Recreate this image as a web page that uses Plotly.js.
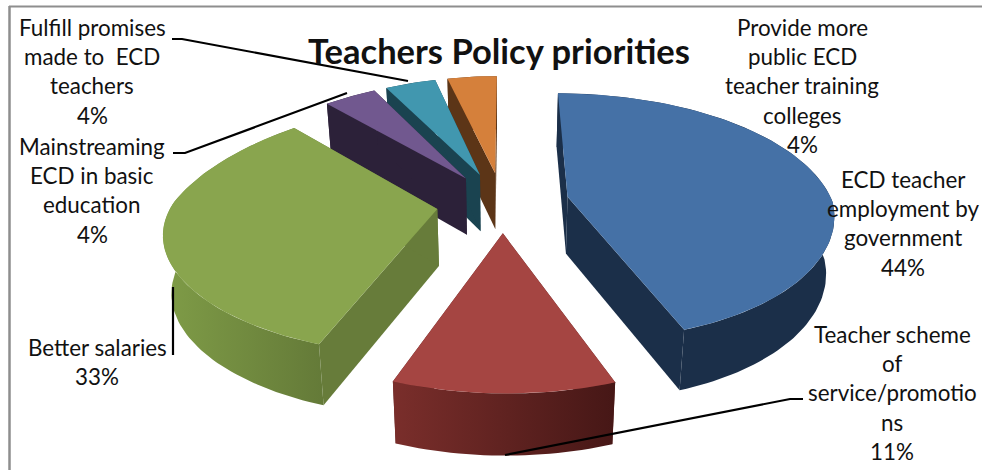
<!DOCTYPE html>
<html>
<head>
<meta charset="utf-8">
<script src="https://cdn.plot.ly/plotly-3.0.1.min.js"></script>
<style>html,body{margin:0;padding:0;background:#fff}#chart{width:982px;height:470px}</style>
</head>
<body>
<div id="chart"></div>
<script>
// Survey shares, clockwise from twelve o'clock
const categories = [
  "ECD teacher employment by government",
  "Teacher scheme of service/promotions",
  "Better salaries",
  "Mainstreaming ECD in basic education",
  "Fulfill promises made to ECD teachers",
  "Provide more public ECD teacher training colleges"
];
const shares = [44, 11, 33, 4, 4, 4];

// Slice colours: top face, cut faces, rim gradient ends
const topColors  = ["#4571A6", "#A54542", "#89A54E", "#71588F", "#4197AF", "#D5803B"];
const cutColors  = ["#1B2F49", "#5E2422", "#677C3A", "#2C2139", "#1A4350", "#5C3517"];
const rimLeft    = ["#1B2F49", "#7A2E2B", "#7F9C47", "#2C2139", "#1A4350", "#5C3517"];
const rimRight   = ["#1B2F49", "#461716", "#647A38", "#2C2139", "#1A4350", "#5C3517"];

// Back-to-front painting order of the slices
const paintOrder = [5, 4, 3, 0, 2, 1];

// Labels, one string per printed line
const labelLines = [
  ["ECD teacher", "employment by", "government", "44%"],
  ["Teacher scheme", "of", "service/promotio", "ns", "11%"],
  ["Better salaries", "33%"],
  ["Mainstreaming", "ECD in basic", "education", "4%"],
  ["Fulfill promises", "made to  ECD", "teachers", "4%"],
  ["Provide more", "public ECD", "teacher training", "colleges", "4%"]
];
const labelCenterX = [903, 892, 97, 92, 92, 802];
const labelFirstY  = [179, 334, 347, 146, 27, 27];
const labelGap = 29.4;

// Leader lines from labels to slices, in page pixels
const leaders = [
  [[172, 39], [182, 39], [408, 81]],
  [[173, 153], [185, 153], [347, 93]],
  [[173, 287], [173, 355]],
  [[803, 399], [790, 399], [505, 455]]
];

// Perspective camera for the tilted disc (radius 1, view from the front)
const cam = {x0: 503, y0: 202.5, sx: 265, sy: 123.5, k: 0.176, backSqueeze: 0.075,
             depth: 57, depthPow: 0.35, floorScale: 0.975,
             frontShearX: [6, 9.25], frontShearY: [6, -5.7]};
const explode = 0.25;

function project(X, Y, onFloor) {
  const w = 1 + cam.k * Y;
  const squeeze = (Y > 0 && X < 0) ? 1 - cam.backSqueeze * Y : 1;
  let u = cam.sx * X / w * squeeze;
  let v = -cam.sy * Y / w;
  // The near half of the disc leans slightly, as in an off-axis view
  if (Y < 0) {
    u += Y * (cam.frontShearX[0] * X + cam.frontShearX[1]);
    v += -Y * (cam.frontShearY[0] * X + cam.frontShearY[1]);
  }
  if (onFloor) {
    u *= cam.floorScale;
    v += cam.depth / Math.pow(w, cam.depthPow);
  }
  return [cam.x0 + u, cam.y0 + v];
}

const total = shares.reduce((a, b) => a + b, 0);
const toRad = Math.PI / 180;

function polygon(points, color, extra) {
  return Object.assign({
    type: "scatter", mode: "lines", fill: "toself", fillcolor: color,
    x: points.map(p => p[0]), y: points.map(p => p[1]),
    line: {width: 0}, hoverinfo: "skip", showlegend: false
  }, extra || {});
}

// Turn each share into its wedge: cut faces, outer rim, then the top face
const geometry = [];
let running = 0;
shares.forEach((value) => {
  const start = running / total * 360;
  running += value;
  const end = running / total * 360;
  const mid = (start + end) / 2 * toRad;
  const ox = Math.sin(mid) * explode, oy = Math.cos(mid) * explode;
  const arc = [];
  const steps = Math.max(4, Math.ceil((end - start) / 1.5));
  for (let i = 0; i <= steps; i++) {
    const t = (start + (end - start) * i / steps) * toRad;
    arc.push([ox + Math.sin(t), oy + Math.cos(t)]);
  }
  geometry.push({apex: [ox, oy], arc});
});

const traces = [];
paintOrder.forEach((idx) => {
  const g = geometry[idx];
  const top = p => project(p[0], p[1], false);
  const low = p => project(p[0], p[1], true);
  const first = g.arc[0], last = g.arc[g.arc.length - 1];
  traces.push(polygon([top(g.apex), top(first), low(first), low(g.apex), top(g.apex)], cutColors[idx]));
  traces.push(polygon([top(g.apex), top(last), low(last), low(g.apex), top(g.apex)], cutColors[idx]));
  const rim = g.arc.map(top).concat(g.arc.slice().reverse().map(low));
  rim.push(rim[0]);
  traces.push(polygon(rim, rimLeft[idx], {
    fillgradient: {type: "horizontal", colorscale: [[0, rimLeft[idx]], [1, rimRight[idx]]]}
  }));
  const face = [top(g.apex)].concat(g.arc.map(top));
  face.push(face[0]);
  traces.push(polygon(face, topColors[idx], {
    name: categories[idx], hoverinfo: "text", text: categories[idx] + ": " + shares[idx] + "%"
  }));
});

const textFont = {family: "Lato, 'Open Sans', sans-serif", size: 22.4, color: "#111"};

const annotations = [];
labelLines.forEach((lines, i) => {
  lines.forEach((line, j) => {
    annotations.push({
      xref: "x", yref: "y", x: labelCenterX[i], y: labelFirstY[i] + j * labelGap,
      text: line, showarrow: false, xanchor: "center", yanchor: "middle", font: textFont
    });
  });
});

const shapes = leaders.map(path => ({
  type: "path", xref: "x", yref: "y", layer: "above",
  path: path.map((p, i) => (i ? "L" : "M") + p[0] + "," + p[1]).join(" "),
  line: {color: "#000", width: 2.2}
}));
// Picture frame along the top and left edges
shapes.push({type: "line", xref: "x", yref: "y", x0: 9, y0: 6.5, x1: 982, y1: 6.5, line: {color: "#8e8e8e", width: 2}});
shapes.push({type: "line", xref: "x", yref: "y", x0: 9.5, y0: 6, x1: 9.5, y1: 470, line: {color: "#8e8e8e", width: 2.5}});

const layout = {
  width: 982, height: 470,
  margin: {l: 0, r: 0, t: 0, b: 0},
  paper_bgcolor: "#fff", plot_bgcolor: "#fff",
  showlegend: false,
  title: {
    text: "<b>Teachers Policy priorities</b>",
    x: 499 / 982, xanchor: "center", xref: "paper",
    y: 1 - 52 / 470, yanchor: "middle", yref: "paper",
    font: {family: "Lato, 'Open Sans', sans-serif", size: 34.5, color: "#111"}
  },
  xaxis: {range: [0, 982], visible: false, fixedrange: true},
  yaxis: {range: [470, 0], visible: false, fixedrange: true},
  annotations, shapes
};

Plotly.newPlot("chart", traces, layout, {displayModeBar: false, responsive: false});
</script>
</body>
</html>
